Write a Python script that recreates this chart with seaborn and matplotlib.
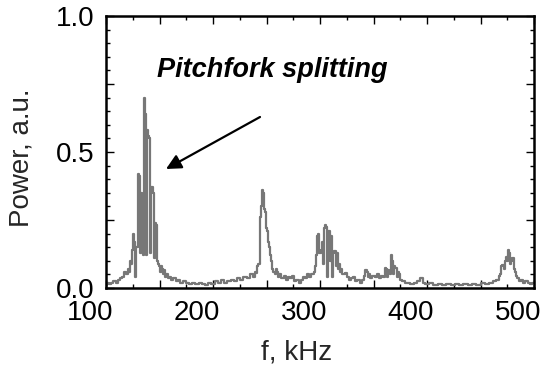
import matplotlib
matplotlib.use("Agg")
import matplotlib.pyplot as plt
import matplotlib.transforms as mtransforms
from matplotlib.ticker import MultipleLocator
import seaborn as sns
import pandas as pd

freq_khz = [100, 102, 104, 106, 108, 110, 112, 114, 116, 118, 120, 121, 122, 123, 124, 125,
            126, 127, 128, 129, 130, 131, 132, 133, 134, 135, 136, 137, 138, 139, 140, 141,
            142, 143, 144, 145, 146, 147, 148, 149, 150, 151, 152, 153, 154, 155, 156, 157,
            158, 160, 162, 164, 166, 168, 170, 173, 176, 179, 182, 185, 188, 191, 194, 197,
            200, 203, 206, 209, 212, 215, 218, 221, 224, 227, 230, 233, 236, 238, 240, 241,
            242, 243, 244, 245, 246, 247, 248, 249, 250, 251, 252, 253, 254, 255, 256, 257,
            258, 259, 260, 261, 263, 265, 267, 269, 271, 273, 275, 277, 279, 281, 283, 285,
            287, 289, 291, 293, 295, 296, 297, 298, 299, 300, 301, 302, 303, 304, 305, 306,
            307, 308, 309, 310, 311, 312, 313, 314, 315, 316, 317, 318, 319, 320, 322, 324,
            326, 328, 330, 332, 334, 336, 338, 340, 342, 343, 344, 345, 346, 348, 350, 352,
            354, 356, 358, 360, 361, 362, 363, 364, 365, 366, 367, 368, 369, 370, 371, 372,
            373, 374, 376, 378, 380, 383, 386, 389, 392, 395, 397, 400, 404, 408, 412, 416,
            420, 424, 428, 432, 436, 440, 444, 448, 452, 456, 460, 463, 466, 468, 469, 470,
            471, 472, 473, 474, 475, 476, 477, 478, 479, 480, 481, 482, 483, 484, 485, 487,
            489, 491, 493, 495, 497, 499, 500]

power_au = [0.01, 0.02, 0.015, 0.02, 0.025, 0.02, 0.03, 0.035, 0.04, 0.06, 0.05, 0.07, 0.06, 0.10, 0.09, 0.14,
            0.20, 0.17, 0.04, 0.15, 0.42, 0.41, 0.13, 0.35, 0.33, 0.12, 0.70, 0.64, 0.12, 0.58, 0.56, 0.55,
            0.13, 0.37, 0.35, 0.11, 0.24, 0.23, 0.10, 0.09, 0.08, 0.06, 0.08, 0.07, 0.05, 0.065, 0.04, 0.05,
            0.035, 0.04, 0.03, 0.035, 0.025, 0.03, 0.02, 0.025, 0.02, 0.015, 0.02, 0.015, 0.02, 0.015, 0.01, 0.02,
            0.015, 0.025, 0.02, 0.03, 0.02, 0.025, 0.03, 0.025, 0.035, 0.03, 0.04, 0.035, 0.05, 0.04, 0.06, 0.055,
            0.08, 0.09, 0.26, 0.30, 0.36, 0.35, 0.29, 0.28, 0.22, 0.21, 0.17, 0.15, 0.12, 0.10, 0.07, 0.06,
            0.05, 0.07, 0.06, 0.04, 0.05, 0.035, 0.045, 0.03, 0.04, 0.035, 0.045, 0.025, 0.03, 0.02, 0.03, 0.04,
            0.035, 0.05, 0.04, 0.05, 0.06, 0.08, 0.12, 0.19, 0.20, 0.13, 0.14, 0.17, 0.09, 0.22, 0.23, 0.225,
            0.04, 0.21, 0.21, 0.10, 0.19, 0.04, 0.13, 0.135, 0.08, 0.13, 0.07, 0.09, 0.06, 0.07, 0.05, 0.055,
            0.04, 0.03, 0.035, 0.04, 0.025, 0.03, 0.02, 0.03, 0.045, 0.065, 0.06, 0.04, 0.05, 0.035, 0.045, 0.04,
            0.05, 0.035, 0.045, 0.04, 0.075, 0.07, 0.04, 0.065, 0.06, 0.05, 0.12, 0.10, 0.05, 0.08, 0.075, 0.04,
            0.06, 0.05, 0.03, 0.025, 0.02, 0.02, 0.015, 0.02, 0.025, 0.035, 0.02, 0.015, 0.02, 0.01, 0.015, 0.01,
            0.015, 0.01, 0.015, 0.01, 0.015, 0.01, 0.015, 0.01, 0.02, 0.015, 0.02, 0.025, 0.03, 0.045, 0.05, 0.08,
            0.085, 0.07, 0.10, 0.115, 0.10, 0.14, 0.13, 0.09, 0.10, 0.11, 0.11, 0.07, 0.06, 0.045, 0.035, 0.025,
            0.03, 0.02, 0.025, 0.02, 0.015, 0.02, 0.02]

x_tick_values = [100, 200, 300, 400, 500]
x_tick_labels = ["100", "200", "300", "400", "500"]
y_tick_values = [0.0, 0.5, 1.0]
y_tick_labels = ["0.0", "0.5", "1.0"]
annotation_text = "Pitchfork splitting"

df = pd.DataFrame({"f": freq_khz, "p": power_au})

sns.set_style("ticks")
plt.rcParams["font.family"] = ["Liberation Sans", "DejaVu Sans"]

fig = plt.figure(figsize=(5.44, 3.66), dpi=100)
ax = fig.add_axes([106 / 544, 1 - 288 / 366, (534 - 106) / 544, (288 - 16) / 366])

sns.lineplot(data=df, x="f", y="p", ax=ax, color="#777777", linewidth=1.6,
             drawstyle="steps-mid", estimator=None, sort=False)

ax.set_xlim(100, 500)
ax.set_ylim(0, 1.0)

ax.xaxis.set_major_locator(MultipleLocator(50))
ax.xaxis.set_minor_locator(MultipleLocator(25))
ax.xaxis.set_major_formatter(plt.FuncFormatter(
    lambda v, pos: x_tick_labels[x_tick_values.index(int(round(v)))] if int(round(v)) in x_tick_values else ""))
ax.yaxis.set_major_locator(MultipleLocator(0.25))
ax.yaxis.set_minor_locator(MultipleLocator(0.05))
ax.yaxis.set_major_formatter(plt.FuncFormatter(
    lambda v, pos: y_tick_labels[[round(t, 2) for t in y_tick_values].index(round(v, 2))]
    if round(v, 2) in [round(t, 2) for t in y_tick_values] else ""))

ax.tick_params(which="both", direction="in", top=True, right=True, colors="black",
               labelsize=20, width=1.0)
ax.tick_params(which="major", length=6)
ax.tick_params(which="minor", length=3)
ax.tick_params(axis="x", pad=9)
ax.tick_params(axis="y", pad=8)

offset = mtransforms.ScaledTranslation(-16 / 100, 0, fig.dpi_scale_trans)
for lbl in ax.get_xticklabels():
    lbl.set_transform(lbl.get_transform() + offset)

for sp in ax.spines.values():
    sp.set_visible(True)
    sp.set_color("black")
    sp.set_linewidth(1.8)

ax.set_xlabel("f, kHz", fontsize=20)
ax.set_ylabel("Power, a.u.", fontsize=20)
ax.xaxis.set_label_coords((297 - 106) / 428, -0.19)
ax.yaxis.set_label_coords(-0.168, 0.48)

ax.text(157 / 544, 1 - 70 / 366, annotation_text, transform=fig.transFigure,
        fontsize=19.5, fontweight="bold", fontstyle="italic", ha="left", va="center",
        color="black")

ax.annotate("", xy=(166 / 544, 1 - 169 / 366), xytext=(260 / 544, 1 - 117 / 366),
            xycoords="figure fraction", textcoords="figure fraction",
            arrowprops=dict(arrowstyle="-|>,head_length=0.9,head_width=0.45",
                            color="black", lw=1.6, shrinkA=0, shrinkB=0))

fig.savefig("out.png", dpi=100)
